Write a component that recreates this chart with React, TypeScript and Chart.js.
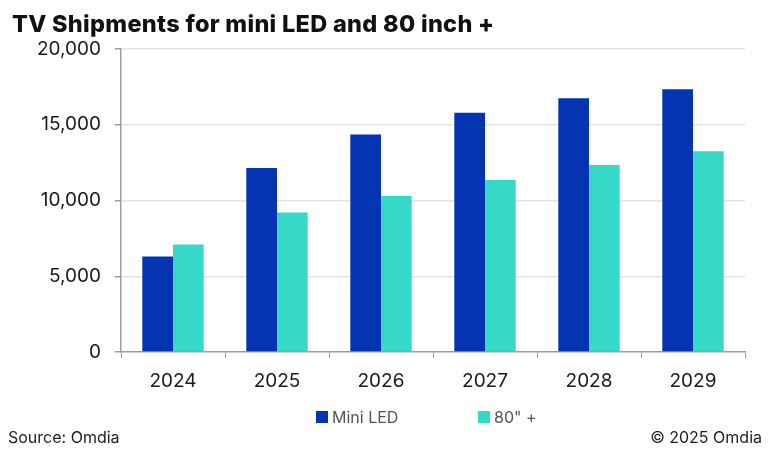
import React, { useEffect, useRef } from "react";
import { Chart, registerables } from "chart.js";

Chart.register(...registerables);

const years = ["2024", "2025", "2026", "2027", "2028", "2029"];
const miniLED = [6300, 12150, 14350, 15800, 16750, 17350];
const inch80 = [7100, 9200, 10300, 11350, 12350, 13250];
const seriesNames = ["Mini LED", "80\" +"];
const yTicks = [0, 5000, 10000, 15000, 20000];
const titleText = "TV Shipments for mini LED and 80 inch +";
const sourceText = "Source: Omdia";
const copyrightText = "© 2025 Omdia";

const BLUE = "#0335B2";
const TEAL = "#36D8C8";
const AXIS = "#a39d96";

const overlayPlugin = {
  id: "overlay",
  afterDraw(chart: any) {
    const ctx = chart.ctx;
    ctx.save();
    // title
    ctx.fillStyle = "#111";
    ctx.font = "800 23.5px Inter, sans-serif";
    try {
      (ctx as any).letterSpacing = "0.3px";
    } catch (e) {}
    ctx.textBaseline = "alphabetic";
    ctx.textAlign = "left";
    ctx.fillText(titleText, 12, 32);
    try {
      (ctx as any).letterSpacing = "0px";
    } catch (e) {}
    // legend
    const ds = chart.data.datasets;
    const legendX = [316, 478];
    ctx.font = "16px Inter, sans-serif";
    ds.forEach((d: any, i: number) => {
      ctx.fillStyle = d.backgroundColor;
      ctx.fillRect(legendX[i], 411, 12, 12);
      ctx.fillStyle = "#555";
      ctx.textBaseline = "middle";
      ctx.fillText(d.label, legendX[i] + 16, 418);
    });
    // source & copyright
    ctx.fillStyle = "#222";
    ctx.font = "16px Inter, sans-serif";
    ctx.textBaseline = "alphabetic";
    ctx.fillText(sourceText, 8, 443);
    ctx.textAlign = "right";
    ctx.fillText(copyrightText, 762, 443);
    ctx.restore();
  },
};

export default function App() {
  const ref = useRef<HTMLCanvasElement>(null);
  useEffect(() => {
    if (!ref.current) return;
    const chart = new Chart(ref.current, {
      type: "bar",
      data: {
        labels: years,
        datasets: [
          { label: seriesNames[0], data: miniLED, backgroundColor: BLUE },
          { label: seriesNames[1], data: inch80, backgroundColor: TEAL },
        ],
      },
      options: {
        animation: false,
        responsive: false,
        maintainAspectRatio: false,
        devicePixelRatio: 1,
        layout: { padding: { left: 0, right: 23, top: 49, bottom: 0 } },
        datasets: {
          bar: { barPercentage: 1, categoryPercentage: 0.59 },
        },
        plugins: {
          legend: { display: false },
          title: { display: false },
          tooltip: { enabled: false },
        },
        scales: {
          x: {
            grid: {
              offset: true,
              drawOnChartArea: false,
              drawTicks: true,
              tickLength: 6,
              tickColor: AXIS,
            },
            border: { color: AXIS, width: 1.5 },
            ticks: {
              color: "#1a1a1a",
              font: { family: "Inter, sans-serif", size: 19 },
              padding: 12,
            },
            afterFit(scale: any) {
              scale.height = 98;
            },
          },
          y: {
            min: 0,
            max: 20000,
            afterBuildTicks(scale: any) {
              scale.ticks = yTicks.map((v) => ({ value: v }));
            },
            grid: {
              color: (c: any) => (c.tick && c.tick.value === 0 ? "rgba(0,0,0,0)" : "#e4e4e4"),
              lineWidth: 1.5,
              drawTicks: true,
              tickLength: 6,
              tickColor: AXIS,
            },
            border: { color: AXIS, width: 1.5 },
            ticks: {
              color: "#1a1a1a",
              font: { family: "Inter, sans-serif", size: 19 },
              padding: 14,
              callback: (v: any) => Number(v).toLocaleString("en-US"),
            },
            afterFit(scale: any) {
              scale.width = 121;
            },
          },
        },
      },
      plugins: [overlayPlugin],
    });
    return () => chart.destroy();
  }, []);
  return (
    <div style={{ position: "fixed", left: 0, top: 0, width: 768, height: 450, background: "#fff" }}>
      <canvas ref={ref} width={768} height={450} style={{ width: 768, height: 450 }} />
    </div>
  );
}
